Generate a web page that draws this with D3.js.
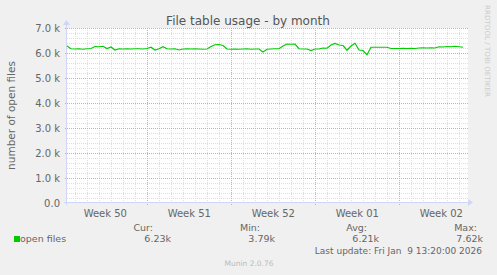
<!DOCTYPE html>
<html>
<head>
<meta charset="utf-8">
<script src="https://cdn.jsdelivr.net/npm/d3@7"></script>
<style>
  body { margin: 0; background: #f0f0f0; }
  svg { display: block; font-family: "DejaVu Sans", sans-serif; }
  text { fill: #666; }
</style>
</head>
<body>
<svg id="chart" width="497" height="275"></svg>
<script>
// open files, one sample every 8 hours
const openFiles = [
  6280, 6170, 6160, 6170, 6150, 6170, 6180, 6260, 6250, 6270,
  6180, 6240, 6120, 6170, 6160, 6170, 6160, 6170, 6170, 6160,
  6180, 6230, 6120, 6170, 6250, 6170, 6160, 6170, 6120, 6160,
  6170, 6160, 6170, 6160, 6150, 6160, 6260, 6330, 6340, 6300,
  6160, 6150, 6160, 6150, 6160, 6170, 6150, 6160, 6160, 6040,
  6150, 6160, 6170, 6170, 6280, 6360, 6350, 6360, 6170, 6160,
  6160, 6100, 6160, 6160, 6200, 6190, 6320, 6380, 6320, 6300,
  6110, 6280, 6390, 6120, 6100, 5930, 6230, 6230, 6230, 6230,
  6230, 6180, 6180, 6180, 6190, 6180, 6190, 6180, 6200, 6210,
  6200, 6210, 6200, 6250, 6240, 6260, 6250, 6270, 6250, 6230
];
const yTicks = [0, 1000, 2000, 3000, 4000, 5000, 6000, 7000];
const legendHeads = ["Cur:", "Min:", "Avg:", "Max:"];
const legendValues = ["6.23k", "3.79k", "6.21k", "7.62k"];

const endTime = new Date(2026, 0, 9, 15, 24);
const startTime = new Date(endTime - 400 / 12 * 86400000);
const stepMs = 8 * 3600000;

const svg = d3.select("#chart");
const pL = 67, pR = 467, pT = 28, pB = 203;

const x = d3.scaleTime().domain([startTime, endTime]).range([pL, pR]);
const y = d3.scaleLinear().domain([0, 7000]).range([pB, pT]);

// canvas
svg.append("rect")
  .attr("x", pL).attr("y", pT)
  .attr("width", pR - pL + 1).attr("height", pB - pT)
  .attr("fill", "#fff");

// minor grid
const minorColor = "#dedede", majorColor = "#e6a3a3";
const grid = svg.append("g").attr("shape-rendering", "crispEdges");
grid.selectAll(".hminor")
  .data(d3.range(200, 7000, 200).filter((v) => v % 1000 !== 0))
  .enter().append("line")
  .attr("x1", pL).attr("x2", pR + 1)
  .attr("y1", (d) => Math.round(y(d)) + 0.5).attr("y2", (d) => Math.round(y(d)) + 0.5)
  .attr("stroke", minorColor).attr("stroke-dasharray", "1,1");
grid.selectAll(".vminor")
  .data(d3.timeDay.range(startTime, endTime).filter((d) => d.getDay() !== 0))
  .enter().append("line")
  .attr("x1", (d) => Math.round(x(d)) + 0.5).attr("x2", (d) => Math.round(x(d)) + 0.5)
  .attr("y1", pT).attr("y2", pB)
  .attr("stroke", minorColor).attr("stroke-dasharray", "1,1");

// major grid
grid.selectAll(".hmajor")
  .data(yTicks.slice(1))
  .enter().append("line")
  .attr("x1", pL - 2).attr("x2", pR + 1)
  .attr("y1", (d) => Math.round(y(d)) + 0.5).attr("y2", (d) => Math.round(y(d)) + 0.5)
  .attr("stroke", majorColor).attr("stroke-dasharray", "1,1");
grid.selectAll(".vmajor")
  .data(d3.timeSunday.range(startTime, endTime))
  .enter().append("line")
  .attr("x1", (d) => Math.round(x(d)) + 0.5).attr("x2", (d) => Math.round(x(d)) + 0.5)
  .attr("y1", pT).attr("y2", pB + 3)
  .attr("stroke", majorColor).attr("stroke-dasharray", "1,1");

// axes
const axisColor = "#cfd6f8";
svg.append("line")
  .attr("x1", pL - 0.5).attr("x2", pL - 0.5)
  .attr("y1", pB + 2).attr("y2", pT - 4)
  .attr("stroke", axisColor);
svg.append("path")
  .attr("d", `M${pL - 4},${pT - 3}L${pL - 0.5},${pT - 8}L${pL + 3},${pT - 3}Z`)
  .attr("fill", axisColor);
svg.append("line")
  .attr("x1", pL - 3).attr("x2", pR + 2)
  .attr("y1", pB - 0.5).attr("y2", pB - 0.5)
  .attr("stroke", axisColor);
svg.append("path")
  .attr("d", `M${pR + 1},${pB - 4}L${pR + 6},${pB - 0.5}L${pR + 1},${pB + 3}Z`)
  .attr("fill", axisColor);

// y tick labels
svg.selectAll(".ylab")
  .data(yTicks)
  .enter().append("text")
  .attr("x", 60).attr("y", (d) => y(d) + 3.5)
  .attr("text-anchor", "end")
  .attr("font-size", 10)
  .text((d) => (d === 0 ? "0.0" : d3.format(".1f")(d / 1000) + " k"));

// x labels at week centres
const weekFmt = d3.timeFormat("%V");
svg.selectAll(".xlab")
  .data(d3.timeSunday.range(d3.timeSunday.offset(startTime, -1), endTime)
    .map((d) => d3.timeHour.offset(d, 84))
    .filter((d) => d >= startTime && d <= endTime))
  .enter().append("text")
  .attr("x", (d) => x(d)).attr("y", 217)
  .attr("text-anchor", "middle")
  .attr("font-size", 10)
  .text((d) => "Week " + weekFmt(d));

// data line
const line = d3.line()
  .x((d, i) => x(new Date(+startTime + i * stepMs)))
  .y((d) => y(d));
svg.append("path")
  .datum(openFiles)
  .attr("d", line)
  .attr("fill", "none")
  .attr("stroke", "#00cc00")
  .attr("stroke-width", 1.2);

// titles
svg.append("text")
  .attr("x", 248).attr("y", 25)
  .attr("text-anchor", "middle")
  .attr("font-size", 12)
  .style("fill", "#555")
  .text("File table usage - by month");
svg.append("text")
  .attr("transform", `translate(15,${(pT + pB) / 2}) rotate(-90)`)
  .attr("text-anchor", "middle")
  .attr("font-size", 10.5)
  .text("number of open files");
svg.append("text")
  .attr("transform", "translate(485,5) rotate(90)")
  .attr("text-anchor", "start")
  .attr("font-size", 7)
  .attr("textLength", 92)
  .attr("lengthAdjust", "spacingAndGlyphs")
  .style("fill", "#ccc")
  .text("RRDTOOL / TOBI OETIKER");

// legend
const headRight = [153, 260, 367, 477];
const valueRight = [171, 275, 379, 483];
svg.selectAll(".lhead")
  .data(legendHeads)
  .enter().append("text")
  .attr("x", (d, i) => headRight[i]).attr("y", 231)
  .attr("text-anchor", "end").attr("font-size", 9.5)
  .text((d) => d);
svg.selectAll(".lval")
  .data(legendValues)
  .enter().append("text")
  .attr("x", (d, i) => valueRight[i]).attr("y", 242)
  .attr("text-anchor", "end").attr("font-size", 9.5)
  .text((d) => d);
svg.append("rect")
  .attr("x", 14).attr("y", 236).attr("width", 6).attr("height", 6)
  .attr("fill", "#00cc00");
svg.append("text")
  .attr("x", 20).attr("y", 242).attr("font-size", 9.5)
  .text("open files");
svg.append("text")
  .attr("x", 482).attr("y", 254)
  .attr("text-anchor", "end").attr("font-size", 9)
  .style("white-space", "pre")
  .text("Last update: Fri Jan  9 13:20:00 2026");
svg.append("text")
  .attr("x", 249).attr("y", 266)
  .attr("text-anchor", "middle").attr("font-size", 7.5)
  .style("fill", "#bbb")
  .text("Munin 2.0.76");
</script>
</body>
</html>
